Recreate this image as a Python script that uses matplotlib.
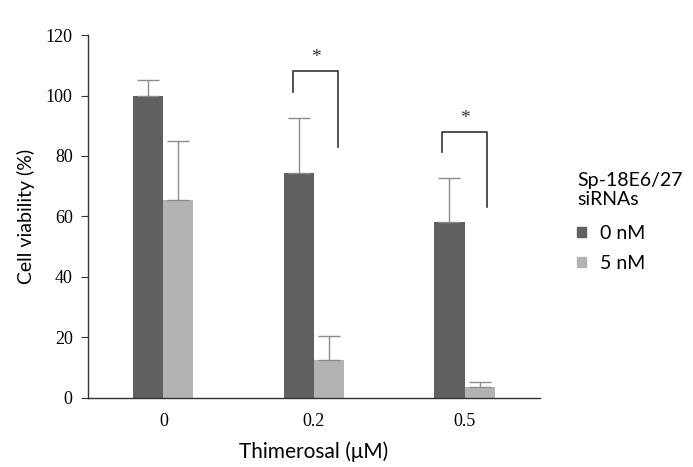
import numpy as np
import matplotlib
matplotlib.use("Agg")
import matplotlib.pyplot as plt
from matplotlib.patches import Patch

# data
categories = ["0", "0.2", "0.5"]
viability_0nM = [100.0, 74.5, 58.2]
err_0nM = [5.0, 18.0, 14.5]
viability_5nM = [65.5, 12.5, 3.6]
err_5nM = [19.5, 8.0, 1.7]
series_labels = ["0 nM", "5 nM"]

# significance brackets: (left x, right x, left foot, right foot, top)
brackets = [
    (0.86, 1.16, 101.3, 83.1, 108.1),
    (1.85, 2.15, 81.3, 63.1, 88.0),
]

DARK = "#606060"
LIGHT = "#b3b3b3"
ERR = "#8c8c8c"
SANS = ["Lato", "DejaVu Sans"]
SERIF = ["Liberation Serif", "DejaVu Serif"]

fig = plt.figure(figsize=(6.93, 4.67), dpi=100)
ax = fig.add_axes([0.127, 0.148, 0.652, 0.777])

x = np.arange(len(categories))
w = 0.2
ax.bar(x - w / 2, viability_0nM, w, color=DARK, zorder=2)
ax.bar(x + w / 2, viability_5nM, w, color=LIGHT, zorder=2)
ax.errorbar(x - w / 2, viability_0nM, yerr=[np.zeros(3), err_0nM], fmt="none",
            ecolor=ERR, elinewidth=1, capsize=8, capthick=1, zorder=3)
ax.errorbar(x + w / 2, viability_5nM, yerr=[np.zeros(3), err_5nM], fmt="none",
            ecolor=ERR, elinewidth=1, capsize=8, capthick=1, zorder=3)

for xl, xr, yl, yr, top in brackets:
    ax.plot([xl, xl, xr, xr], [yl, top, top, yr], color="#333333", lw=1.2,
            clip_on=False, zorder=4)
    ax.text((xl + xr) / 2, top + 1.5, "*", ha="center", va="bottom",
            fontsize=14, color="#333333", family=SERIF)

ax.set_xlim(-0.5, 2.5)
ax.set_ylim(0, 120)
ax.set_yticks(np.arange(0, 121, 20))
ax.set_xticks(x)
ax.set_xticklabels(categories)
for lab in ax.get_xticklabels() + ax.get_yticklabels():
    lab.set_family(SERIF)
    lab.set_fontsize(13)
ax.tick_params(axis="x", length=0, pad=11)
ax.tick_params(axis="y", length=5, direction="out", color="#333333", pad=6)
ax.spines["top"].set_visible(False)
ax.spines["right"].set_visible(False)
for s in ("left", "bottom"):
    ax.spines[s].set_color("#333333")
    ax.spines[s].set_linewidth(1)

ax.set_xlabel("Thimerosal (\u03bcM)", family=SANS, fontsize=15, labelpad=8)
ax.set_ylabel("Cell viability (%)", family=SANS, fontsize=14, labelpad=8)

handles = [Patch(color=DARK), Patch(color=LIGHT)]
leg = fig.legend(handles, series_labels, title="Sp-18E6/27\nsiRNAs",
                 loc="upper left", bbox_to_anchor=(0.808, 0.67),
                 frameon=False, handlelength=0.45, handleheight=0.45,
                 handletextpad=0.7, labelspacing=0.65,
                 prop={"family": SANS, "size": 14},
                 title_fontproperties={"family": SANS, "size": 14})
leg._legend_box.align = "left"
leg._legend_box.sep = 12

fig.savefig("out.png", dpi=100)
